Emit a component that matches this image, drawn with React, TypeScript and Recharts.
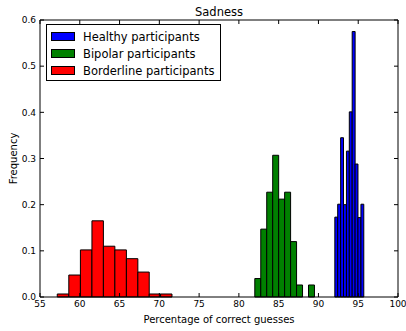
import { ComposedChart, XAxis, YAxis, ReferenceArea, Legend, Scatter } from 'recharts';

// histogram bin edges (11 edges -> 10 bins) and densities
const healthyEdges = [92.06, 92.42, 92.79, 93.15, 93.52, 93.88, 94.24, 94.61, 94.97, 95.34, 95.7];
const healthyValues = [0.173, 0.201, 0.345, 0.2, 0.316, 0.401, 0.575, 0.288, 0.172, 0.201];

const bipolarEdges = [82.0, 82.75, 83.5, 84.25, 85.0, 85.75, 86.5, 87.25, 88.0, 88.75, 89.5];
const bipolarValues = [0.04, 0.147, 0.227, 0.307, 0.212, 0.227, 0.12, 0.026, 0, 0.026];

const borderlineEdges = [57.17, 58.62, 60.08, 61.53, 62.97, 64.41, 65.86, 67.3, 68.73, 70.16, 71.59];
const borderlineValues = [0.0065, 0.0476, 0.102, 0.165, 0.11, 0.102, 0.083, 0.054, 0.0065, 0.0065];

const seriesNames = ['Healthy participants', 'Bipolar participants', 'Borderline participants'];
const seriesColors = ['#0000ff', '#008000', '#ff0000'];

const xTicks = [55, 60, 65, 70, 75, 80, 85, 90, 95, 100];
const yTicks = [0, 0.1, 0.2, 0.3, 0.4, 0.5, 0.6];

const FONT = '"DejaVu Sans", sans-serif';

const groups = [
  { edges: healthyEdges, values: healthyValues },
  { edges: bipolarEdges, values: bipolarValues },
  { edges: borderlineEdges, values: borderlineValues },
];

// one row per bin, so the axes have data to work from
const rows = groups.flatMap((g) =>
  g.values.map((v, i) => ({ x: (g.edges[i] + g.edges[i + 1]) / 2, y: v })),
);

function LegendBox() {
  return (
    <div
      style={{
        border: '1px solid #000',
        background: '#fff',
        padding: '3px 6px 1px 4px',
        fontFamily: FONT,
        fontSize: 11.5,
        color: '#000',
      }}
    >
      {seriesNames.map((name, i) => (
        <div key={name} style={{ display: 'flex', alignItems: 'center', height: 17 }}>
          <span
            style={{
              display: 'inline-block',
              width: 22,
              height: 7,
              border: '1px solid #000',
              background: seriesColors[i],
              marginRight: 8,
            }}
          />
          <span>{name}</span>
        </div>
      ))}
    </div>
  );
}

// inward tick marks only, no labels (matplotlib classic style)
const innerTicks = {
  tickSize: 4,
  tick: () => <g />,
  axisLine: false,
  tickLine: { stroke: '#000' },
};

export default function App() {
  const tickStyle = { fontSize: 9, fill: '#000', fontFamily: FONT };
  return (
    <div style={{ position: 'absolute', left: 0, top: 0, width: 406, height: 331, background: '#fff' }}>
      <ComposedChart width={406} height={331} data={rows} margin={{ top: 20, right: 8, bottom: 0, left: 0 }}>
        <XAxis
          xAxisId={0}
          dataKey="x"
          type="number"
          domain={[55, 100]}
          ticks={xTicks}
          allowDataOverflow
          height={34}
          tickLine={false}
          tickSize={0}
          tickMargin={4}
          tick={tickStyle}
          axisLine={false}
          label={{
            value: 'Percentage of correct guesses',
            position: 'insideBottom',
            offset: 8,
            style: { fontSize: 10, fill: '#000', fontFamily: FONT },
          }}
        />
        <XAxis
          xAxisId="ticksBottom"
          dataKey="x"
          type="number"
          domain={[55, 100]}
          ticks={xTicks}
          allowDataOverflow
          orientation="bottom"
          mirror
          height={1}
          {...innerTicks}
        />
        <XAxis
          xAxisId="top"
          dataKey="x"
          type="number"
          domain={[55, 100]}
          ticks={xTicks}
          allowDataOverflow
          orientation="top"
          mirror
          height={1}
          {...innerTicks}
        />
        <YAxis
          yAxisId={0}
          dataKey="y"
          type="number"
          domain={[0, 0.6]}
          ticks={yTicks}
          allowDataOverflow
          width={40}
          tickLine={false}
          tickSize={0}
          tickMargin={4}
          tick={tickStyle}
          tickFormatter={(v: number) => v.toFixed(1)}
          axisLine={false}
          label={{
            value: 'Frequency',
            angle: -90,
            position: 'insideLeft',
            offset: 13,
            style: { textAnchor: 'middle', fontSize: 10, fill: '#000', fontFamily: FONT },
          }}
        />
        <YAxis
          yAxisId="ticksLeft"
          type="number"
          domain={[0, 0.6]}
          ticks={yTicks}
          allowDataOverflow
          orientation="left"
          mirror
          width={1}
          {...innerTicks}
        />
        <YAxis
          yAxisId="right"
          type="number"
          domain={[0, 0.6]}
          ticks={yTicks}
          allowDataOverflow
          orientation="right"
          mirror
          width={1}
          {...innerTicks}
        />
        {/* invisible series so that every axis is wired to data */}
        <Scatter xAxisId={0} yAxisId={0} dataKey="y" shape={() => null} isAnimationActive={false} legendType="none" />
        <Scatter xAxisId="top" yAxisId="right" dataKey="y" shape={() => null} isAnimationActive={false} legendType="none" />
        <Scatter xAxisId="ticksBottom" yAxisId="ticksLeft" dataKey="y" shape={() => null} isAnimationActive={false} legendType="none" />
        {groups.map((g, gi) =>
          g.values.map((v, i) =>
            v > 0 ? (
              <ReferenceArea
                key={`${gi}-${i}`}
                x1={g.edges[i]}
                x2={g.edges[i + 1]}
                y1={0}
                y2={v}
                fill={seriesColors[gi]}
                fillOpacity={1}
                stroke="#000"
                strokeWidth={1}
                ifOverflow="visible"
              />
            ) : null,
          ),
        )}
        {/* axes frame, carrying the title */}
        <ReferenceArea
          x1={55}
          x2={100}
          y1={0}
          y2={0.6}
          fill="none"
          fillOpacity={0}
          stroke="#000"
          strokeWidth={1}
          ifOverflow="visible"
          label={{
            value: 'Sadness',
            position: 'top',
            offset: 4,
            style: { fontSize: 11.5, fill: '#000', fontFamily: FONT },
          }}
        />
        <Legend
          layout="vertical"
          align="center"
          verticalAlign="middle"
          wrapperStyle={{ left: 46, top: 24, width: 'auto', height: 'auto' }}
          content={() => <LegendBox />}
        />
      </ComposedChart>
    </div>
  );
}
